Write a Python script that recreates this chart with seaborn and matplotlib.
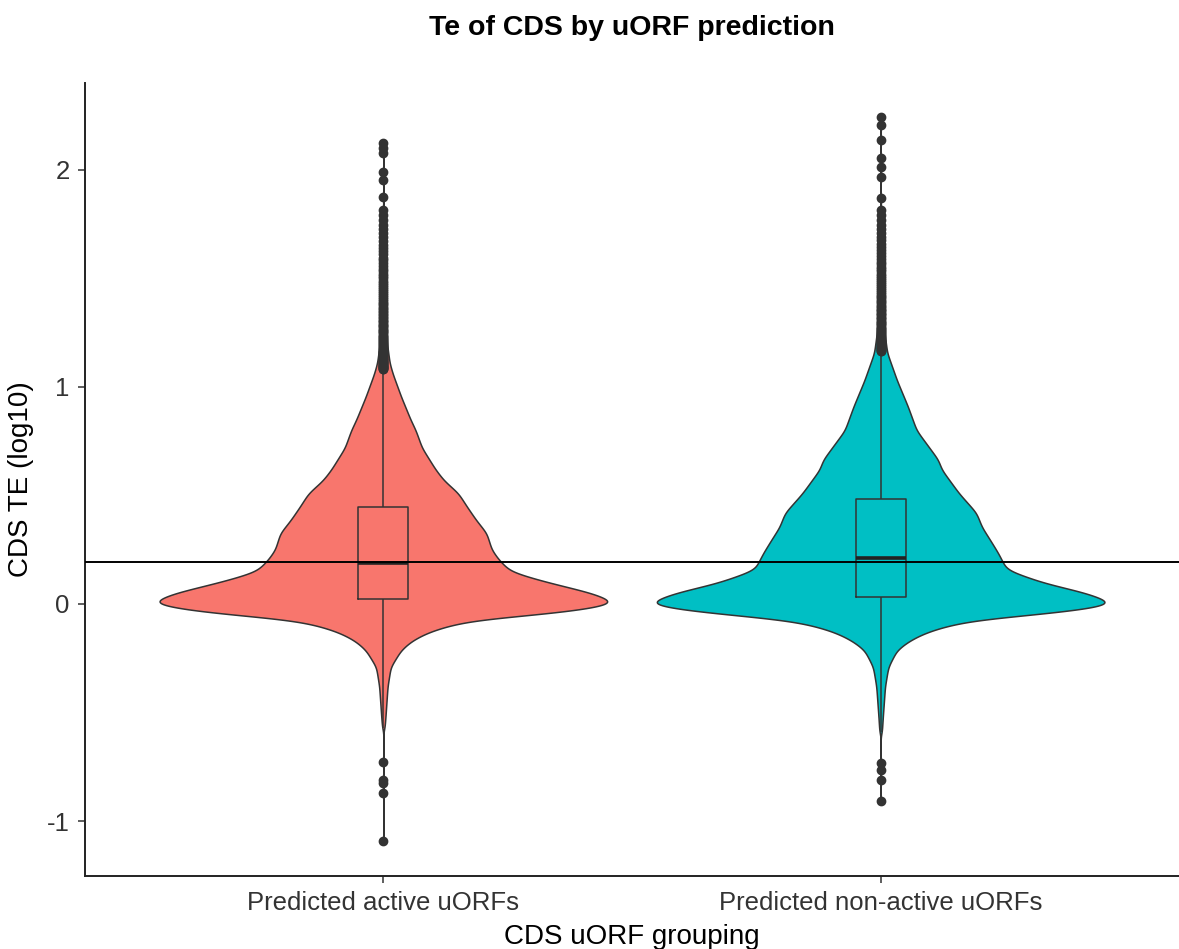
import numpy as np
import pandas as pd
import matplotlib
matplotlib.use("Agg")
import matplotlib.pyplot as plt
import seaborn as sns

# ---------------- data ----------------
groups = ["Predicted active uORFs", "Predicted non-active uORFs"]
colors = ["#F8766D", "#00BFC4"]

# violin profile: value levels (log10 TE) and relative violin half-width at each level
active_levels = [-0.58, -0.52, -0.38, -0.29, -0.212, -0.17, -0.134, -0.11, -0.074, -0.04,
                 -0.018, 0.005, 0.05, 0.08, 0.11, 0.15, 0.203, 0.25, 0.327, 0.387, 0.45,
                 0.51, 0.57, 0.62, 0.72, 0.80, 0.85, 0.955, 1.06, 1.11, 1.2, 1.4, 1.6, 1.83]
active_width = [1, 2, 4, 7, 17, 27, 41, 55, 84, 167,
                201, 224, 201, 175, 150, 122, 111, 104, 99, 89, 80,
                72, 58, 50, 37, 31, 26, 17, 9, 6, 3.5, 2, 1.2, 0.6]
active_outliers = [-1.092, -0.871, -0.825, -0.811, -0.728,
                   1.876, 1.954, 1.99, 2.078, 2.10, 2.124]

nonactive_levels = [-0.6, -0.52, -0.38, -0.29, -0.212, -0.17, -0.134, -0.11, -0.074, -0.04,
                    -0.018, 0.0, 0.05, 0.097, 0.157, 0.235, 0.30, 0.355, 0.42, 0.51,
                    0.62, 0.664, 0.80, 0.91, 1.03, 1.157, 1.25, 1.4, 1.6, 1.83]
nonactive_width = [1, 2, 4, 7, 15, 26, 40, 54, 83, 160,
                   195, 216, 190, 150, 116, 108, 100, 93, 88, 72,
                   56, 53, 33, 25, 15, 6, 3.5, 2.2, 1.3, 0.6]
nonactive_outliers = [-0.907, -0.811, -0.765, -0.733,
                      1.871, 1.968, 2.014, 2.055, 2.138, 2.207, 2.244]

n_body = [6000, 6000]
ref_line = 0.195
yticks = [-1, 0, 1, 2]
ytick_labels = ["-1", "0", "1", "2"]


def body_values(levels, widths, n):
    """Values whose distribution follows the read violin profile (inverse CDF)."""
    lv = np.asarray(levels, float)
    w = np.asarray(widths, float)
    grid = np.linspace(lv[0], lv[-1], 6000)
    dens = np.interp(grid, lv, w)
    cdf = np.concatenate([[0], np.cumsum((dens[1:] + dens[:-1]) / 2 * np.diff(grid))])
    cdf /= cdf[-1]
    p = (np.arange(n) + 0.5) / n
    return np.interp(p, cdf, grid)


vals_a = np.concatenate([body_values(active_levels, active_width, n_body[0]), active_outliers])
vals_n = np.concatenate([body_values(nonactive_levels, nonactive_width, n_body[1]), nonactive_outliers])
df = pd.DataFrame({
    "group": [groups[0]] * len(vals_a) + [groups[1]] * len(vals_n),
    "value": np.concatenate([vals_a, vals_n]),
})

# ---------------- plot ----------------
sns.set_theme(style="ticks")
plt.rcParams["font.family"] = ["Liberation Sans", "DejaVu Sans"]

W, H = 1179, 949
fig = plt.figure(figsize=(W / 100, H / 100), dpi=100)
ax = fig.add_axes([85 / W, 1 - 876 / H, (W - 85) / W, (876 - 83) / H])

sns.violinplot(data=df, x="group", y="value", hue="group", order=groups, hue_order=groups,
               palette=colors, saturation=1, cut=0, bw_method=0.05, gridsize=1200,
               density_norm="area", width=0.9, inner=None, linewidth=1.1,
               linecolor="#333333", legend=False, ax=ax)

sns.boxplot(data=df, x="group", y="value", order=groups, width=0.1, fill=False,
            color="#333333", linewidth=1.1, whis=1.5, showcaps=False,
            flierprops=dict(marker="o", markerfacecolor="#333333", markeredgecolor="#333333",
                            markersize=6, linestyle="none"),
            medianprops=dict(linewidth=2.6, color="#222222"),
            ax=ax)

ax.axhline(ref_line, color="black", linewidth=1.4, zorder=10)

ax.set_xlim(-0.6, 1.6)
ax.set_ylim(-1.253, 2.40)
ax.set_yticks(yticks)
ax.set_yticklabels(ytick_labels)

sns.despine(ax=ax)
for s in ["left", "bottom"]:
    ax.spines[s].set_color("#222222")
    ax.spines[s].set_linewidth(1.4)
ax.tick_params(axis="both", colors="#333333", length=5, width=1.1, labelsize=18.5,
               labelcolor="#333333", pad=6)

ax.set_xlabel("CDS uORF grouping", fontsize=20, color="black")
ax.set_ylabel("CDS TE (log10)", fontsize=20, color="black")
ax.xaxis.set_label_coords(0.5, -0.060)
ax.yaxis.set_label_coords(-0.047, 0.5)

fig.text(632 / W, 1 - 28 / H, "Te of CDS by uORF prediction", ha="center", va="center",
         fontsize=20.5, fontweight="bold", color="black")

fig.savefig("out.png", dpi=100)
